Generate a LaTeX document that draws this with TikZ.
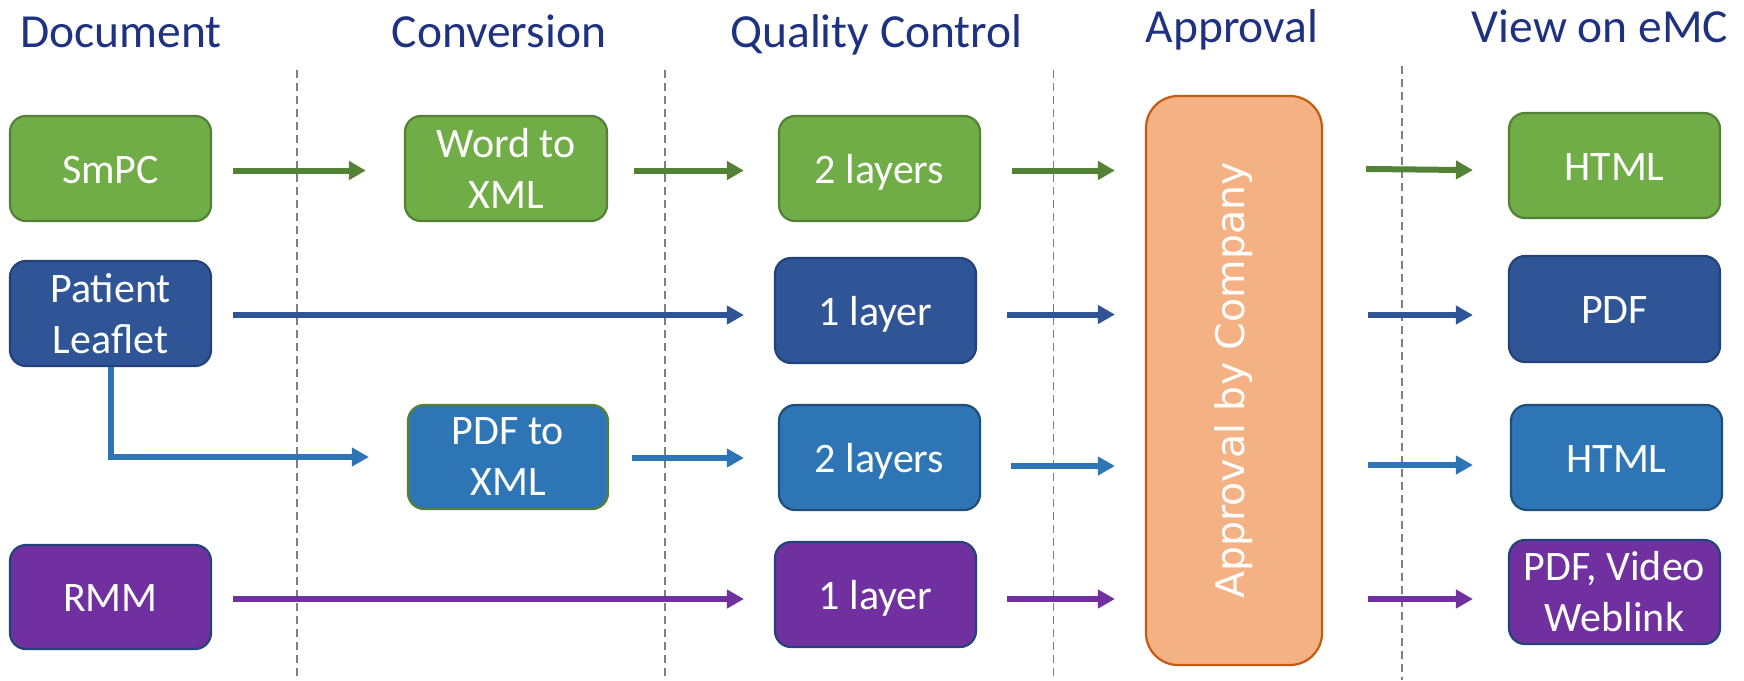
\documentclass[tikz,border=0pt]{standalone}
\usepackage{fontspec}
\setmainfont{Carlito}
\newfontfamily\apfont{DejaVu Sans}
\usetikzlibrary{arrows.meta}
\definecolor{hdr}{RGB}{31,50,130}
\definecolor{gfill}{HTML}{70AD47}
\definecolor{gline}{HTML}{538135}
\definecolor{dbfill}{HTML}{2F5597}
\definecolor{dbline}{HTML}{24427A}
\definecolor{mbfill}{HTML}{2E75B6}
\definecolor{mbline}{HTML}{1F4E79}
\definecolor{pfill}{HTML}{7030A0}
\definecolor{pline}{HTML}{22447A}
\definecolor{ofill}{HTML}{F4B183}
\definecolor{oline}{HTML}{C55A11}
\definecolor{dashgray}{HTML}{7F7F7F}
\tikzset{
  box/.style={rounded corners=16pt, line width=2.2pt, inner sep=0pt, align=center,
    text=white, font=\fontsize{42}{51}\selectfont},
  oneline/.style={text height=29pt, text depth=0pt},
  gbox/.style={box, fill=gfill, draw=gline},
  dbbox/.style={box, fill=dbfill, draw=dbline},
  mbbox/.style={box, fill=mbfill, draw=mbline},
  pbox/.style={box, fill=pfill, draw=pline},
  apbox/.style={rounded corners=32pt, line width=2.2pt, fill=ofill, draw=oline, inner sep=0pt,
    text=white, font=\apfont\fontsize{39.5}{47}\selectfont},
  hd/.style={text=hdr, font=\fontsize{47.5}{57}\selectfont, anchor=base, inner sep=0pt},
  arr/.style={line width=6pt, -{Triangle[length=17pt,width=18pt]}},
  garr/.style={arr, draw=gline},
  dbarr/.style={arr, draw=dbfill},
  mbarr/.style={arr, draw=mbfill},
  parr/.style={arr, draw=pfill},
  sep/.style={draw=dashgray, line width=1.8pt, dash pattern=on 8pt off 5pt},
}
\begin{document}
\begin{tikzpicture}[x=1pt,y=-1pt]
\useasboundingbox (0,0) rectangle (1744,680);
% headers
\node[hd] (h1) at (121,47) {Document};
\node[hd] (h2) at (499,47) {Conversion};
\node[hd] (h3) at (876.5,47) {Quality Control};
\node[hd] (h4) at (1232,42) {Approval};
\node[hd] (h5) at (1600,42) {View on eMC};
% separators
\coordinate (s1t) at (297,70);   \coordinate (s1b) at (297,680);
\coordinate (s2t) at (665,70);   \coordinate (s2b) at (665,680);
\coordinate (s3t) at (1053.5,70);\coordinate (s3b) at (1053.5,680);
\coordinate (s4t) at (1402,66);  \coordinate (s4b) at (1402,680);
\draw[sep] (s1t) -- (s1b);
\draw[sep] (s2t) -- (s2b);
\draw[sep] (s3t) -- (s3b);
\draw[sep] (s4t) -- (s4b);
% documents
\node[gbox, oneline, minimum width=201pt, minimum height=105pt] (smpc) at (110.5,168.5) {SmPC};
\node[dbbox, minimum width=201pt, minimum height=105pt] (plf) at (110.5,313.5) {Patient\\Leaflet};
\node[pbox, oneline, minimum width=201pt, minimum height=104pt] (rmm) at (110.5,597) {RMM};
% conversion
\node[gbox, minimum width=202pt, minimum height=105pt] (word) at (506,168.5) {Word to\\XML};
\node[mbbox, draw=gline, minimum width=200pt, minimum height=104pt] (pdfx) at (508,457) {PDF to\\XML};
% quality control
\node[gbox, oneline, minimum width=201pt, minimum height=105pt] (q1) at (879.5,168.5) {2 layers};
\node[dbbox, oneline, minimum width=201pt, minimum height=105pt] (q2) at (875.5,310.5) {1 layer};
\node[mbbox, oneline, minimum width=201pt, minimum height=105pt] (q3) at (879.5,457.5) {2 layers};
\node[pbox, oneline, minimum width=201pt, minimum height=105pt] (q4) at (875.5,594.5) {1 layer};
% approval
\node[apbox, minimum width=176pt, minimum height=569pt] (appr) at (1234,380.5) {\rotatebox{90}{Approval by Company}};
% outputs
\node[gbox, oneline, minimum width=211pt, minimum height=105pt] (o1) at (1614.5,165.5) {HTML};
\node[dbbox, oneline, minimum width=211pt, minimum height=106pt] (o2) at (1614.5,309) {PDF};
\node[mbbox, oneline, minimum width=211pt, minimum height=105pt] (o3) at (1616.5,457.5) {HTML};
\node[pbox, minimum width=211pt, minimum height=104pt] (o4) at (1614.5,592) {PDF, Video\\Weblink};
% row 1
\draw[garr, shorten <=21pt, shorten >=38pt] ([yshift=-2pt]smpc.east) -- ([yshift=-2pt]smpc.east -| word.west);
\draw[garr, shorten <=26pt, shorten >=34pt] ([yshift=-2pt]word.east) -- ([yshift=-2pt]word.east -| q1.west);
\draw[garr, shorten <=31pt, shorten >=30pt] ([yshift=-2pt]q1.east) -- ([yshift=-2pt]q1.east -| appr.west);
\draw[garr, shorten <=43pt, shorten >=35pt] ([yshift=-3pt]appr.east |- o1.west) -- ([yshift=-5pt]o1.west);
% row 2
\draw[dbarr, shorten <=21pt, shorten >=30pt] ([yshift=-1.5pt]plf.east) -- ([yshift=-1.5pt]plf.east -| q2.west);
\draw[dbarr, shorten <=30pt, shorten >=30pt] ([yshift=-4pt]q2.east) -- ([yshift=-4pt]q2.east -| appr.west);
\draw[dbarr, shorten <=45pt, shorten >=35pt] ([yshift=-6pt]appr.east |- o2.west) -- ([yshift=-6pt]o2.west);
% row 3
\draw[mbarr, shorten >=38pt] (plf.south) -- (plf.south |- pdfx.west) -- (pdfx.west);
\draw[mbarr, shorten <=23pt, shorten >=34pt] ([yshift=-1pt]pdfx.east) -- ([yshift=-1pt]pdfx.east -| q3.west);
\draw[mbarr, shorten <=30pt, shorten >=30pt] ([yshift=-8.5pt]q3.east) -- ([yshift=-8.5pt]q3.east -| appr.west);
\draw[mbarr, shorten <=45pt, shorten >=37pt] ([yshift=-7.5pt]appr.east |- o3.west) -- ([yshift=-7.5pt]o3.west);
% row 4
\draw[parr, shorten <=21pt, shorten >=30pt] ([yshift=-2pt]rmm.east) -- ([yshift=-2pt]rmm.east -| q4.west);
\draw[parr, shorten <=30pt, shorten >=30pt] ([yshift=-4.5pt]q4.east) -- ([yshift=-4.5pt]q4.east -| appr.west);
\draw[parr, shorten <=45pt, shorten >=35pt] ([yshift=-7pt]appr.east |- o4.west) -- ([yshift=-7pt]o4.west);
\end{tikzpicture}
\end{document}
